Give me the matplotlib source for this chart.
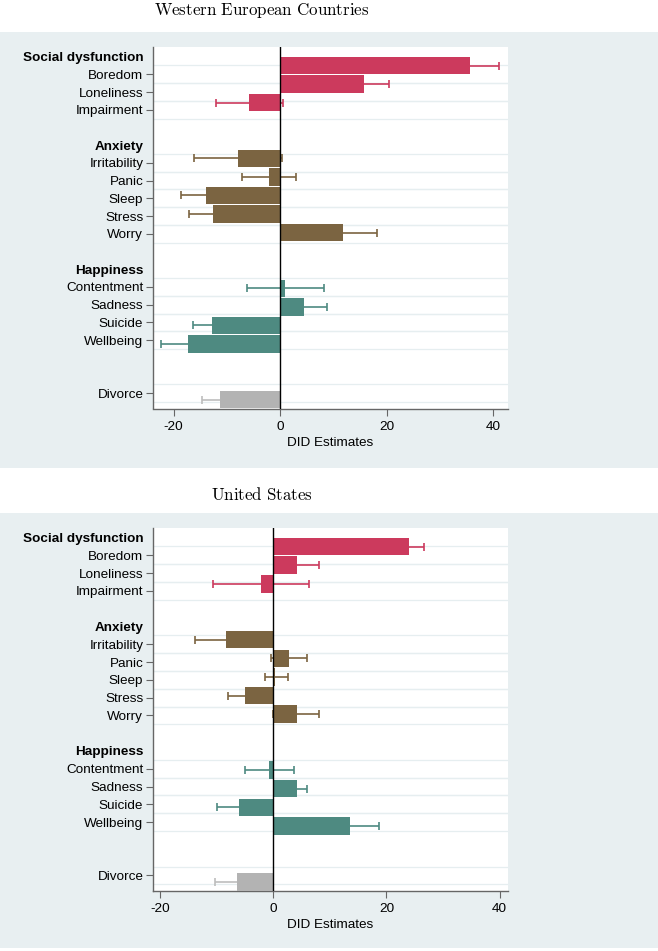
import numpy as np
import matplotlib.pyplot as plt
from matplotlib.patches import Rectangle

plt.rcParams['font.family'] = ['Liberation Sans', 'DejaVu Sans']
plt.rcParams['mathtext.fontset'] = 'cm'

# rows on the category axis (header rows carry only a bold label)
items = ['Boredom', 'Loneliness', 'Impairment', 'Irritability', 'Panic', 'Sleep',
         'Stress', 'Worry', 'Contentment', 'Sadness', 'Suicide', 'Wellbeing', 'Divorce']
item_rows = [0, 1, 2, 5, 6, 7, 8, 9, 12, 13, 14, 15, 18]
item_group = ['soc', 'soc', 'soc', 'anx', 'anx', 'anx', 'anx', 'anx',
              'hap', 'hap', 'hap', 'hap', 'div']
headers = ['Social dysfunction', 'Anxiety', 'Happiness']
header_rows = [-1, 4, 11]

colors = {'soc': '#cc3a5d', 'anx': '#7b6441', 'hap': '#4e8a81', 'div': '#b3b3b3'}
err_colors = {'soc': '#cc3a5d', 'anx': '#7b6441', 'hap': '#4e8a81', 'div': '#bdbdbd'}

# Western European Countries
eu_est = [35.6, 15.8, -5.8, -7.9, -2.1, -13.9, -12.5, 11.9, 0.9, 4.5, -12.7, -17.2, -11.2]
eu_lo = [30.0, 11.1, -12.0, -16.1, -7.2, -18.6, -17.0, 5.6, -6.2, 0.1, -16.4, -22.3, -14.6]
eu_hi = [41.2, 20.4, 0.5, 0.3, 3.0, -9.2, -8.0, 18.2, 8.3, 8.9, -9.1, -12.2, -7.9]

# United States
us_est = [23.9, 4.1, -2.2, -8.4, 2.8, 0.3, -5.1, 4.1, -0.8, 4.1, -6.1, 13.6, -6.5]
us_lo = [21.1, 0.1, -10.6, -13.8, -0.4, -1.5, -8.0, 0.0, -5.0, 2.2, -9.9, 8.4, -10.3]
us_hi = [26.7, 8.0, 6.3, -3.0, 6.0, 2.5, -2.2, 8.1, 3.7, 6.0, -2.3, 18.7, -2.7]

W, H = 658, 951
fig = plt.figure(figsize=(W / 100, H / 100), dpi=100)
FS = 9.7


def fy(px):
    return 1 - px / H


# light panel backgrounds
for top, bot in [(32, 468), (513, 948)]:
    fig.patches.append(Rectangle((0, fy(bot)), 1, (bot - top) / H, transform=fig.transFigure,
                                 facecolor='#e8eff1', edgecolor='none', zorder=-5))


def panel(title, title_y, box, est, lo, hi, xlim):
    left, right, top, bot = box
    ax = fig.add_axes([left / W, fy(bot), (right - left) / W, (bot - top) / H])
    ax.set_facecolor('white')
    tick_pos = lambda r: 0.47 + 0.955 * r

    # faint row separators
    for r in item_rows:
        for yy in (tick_pos(r) - 0.478, tick_pos(r) + 0.478):
            ax.axhline(yy, color='#e6eef0', lw=0.9, zorder=0)

    est = np.array(est)
    lo = np.array(lo)
    hi = np.array(hi)
    for i, r in enumerate(item_rows):
        g = item_group[i]
        ax.errorbar(est[i], r, xerr=[[est[i] - lo[i]], [hi[i] - est[i]]], fmt='none',
                    ecolor=err_colors[g], elinewidth=1.2, capsize=2.6, capthick=1.2, zorder=2)
        ax.barh(r, est[i], height=0.94, color=colors[g], edgecolor='none', zorder=3)

    ax.axvline(0, color='black', lw=1.0, zorder=4)

    ticks = [tick_pos(r) for r in header_rows] + [tick_pos(r) for r in item_rows]
    labels = headers + items
    ax.set_yticks(ticks)
    ax.set_yticklabels(labels, fontsize=FS)
    for i, t in enumerate(ax.yaxis.get_major_ticks()):
        if i < len(headers):
            t.tick1line.set_visible(False)
            t.label1.set_fontweight('bold')
    ax.set_ylim(18.48, -1.0)
    ax.set_xlim(*xlim)
    ax.set_xticks([-20, 0, 20, 40])
    ax.set_xticklabels(['-20', '0', '20', '40'], fontsize=FS)
    ax.set_xlabel('DID Estimates', fontsize=FS, labelpad=3)
    ax.tick_params(axis='y', length=5, width=0.8, color='#666666', pad=2)
    ax.tick_params(axis='x', length=5, width=0.8, color='#666666', pad=4)
    for s in ['top', 'right']:
        ax.spines[s].set_visible(False)
    for s in ['left', 'bottom']:
        ax.spines[s].set_color('#666666')
        ax.spines[s].set_linewidth(1.0)

    fig.text(262 / W, fy(title_y), r'$\mathrm{' + title.replace(' ', r'\ ') + '}$',
             ha='center', va='center', fontsize=12.2)
    return ax


panel('Western European Countries', 11, (153, 508, 47, 408.5), eu_est, eu_lo, eu_hi, (-23.85, 42.8))
panel('United States', 494, (153, 508, 528, 890.7), us_est, us_lo, us_hi, (-21.3, 41.5))

fig.savefig('out.png', dpi=100)
